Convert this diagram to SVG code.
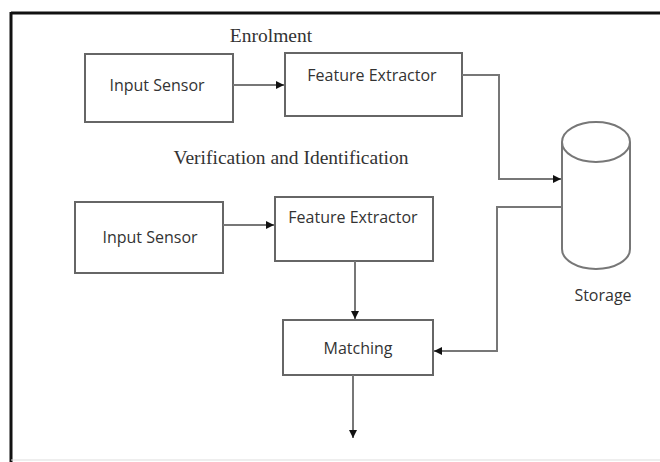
<svg xmlns="http://www.w3.org/2000/svg" width="660" height="462" viewBox="0 0 660 462">
<style>
.box{fill:#fff;stroke:#666;stroke-width:2}
.lbl{font-family:"Open Sans","Liberation Sans",sans-serif;font-size:16px;fill:#333;text-anchor:middle}
.ttl{font-family:"Liberation Serif",serif;font-size:19.5px;fill:#333;text-anchor:middle}
.con{fill:none;stroke:#777;stroke-width:2}
</style>
<defs>
<marker id="ah" viewBox="0 0 10 10" refX="10" refY="5" markerWidth="4" markerHeight="4" orient="auto" markerUnits="strokeWidth">
<path d="M0,0 L10,5 L0,10 z" fill="#111"/>
</marker>
</defs>
<rect x="0" y="0" width="660" height="462" fill="#fff"/>
<g id="frame">
<line x1="11" y1="13" x2="660" y2="13" stroke="#111" stroke-width="3"/>
<line x1="11" y1="12" x2="11" y2="462" stroke="#111" stroke-width="3"/>
<line x1="11" y1="460" x2="660" y2="460" stroke="#ddd" stroke-width="1"/>
</g>
<text class="ttl" x="271" y="42">Enrolment</text>
<text class="ttl" x="291" y="164">Verification and Identification</text>
<g id="input1">
<rect class="box" x="85" y="54" width="148" height="68"/>
<text class="lbl" x="157" y="91">Input Sensor</text>
</g>
<g id="fe1">
<rect class="box" x="285" y="53" width="177" height="63"/>
<text class="lbl" x="372" y="81">Feature Extractor</text>
</g>
<g id="storage">
<path d="M562,142 L562,249 A34,20 0 0 0 630,249 L630,142" fill="#fff" stroke="#777" stroke-width="2"/>
<ellipse cx="596" cy="142" rx="34" ry="20" fill="#fff" stroke="#777" stroke-width="2"/>
<text class="lbl" x="603" y="301">Storage</text>
</g>
<g id="input2">
<rect class="box" x="75" y="202" width="148" height="71"/>
<text class="lbl" x="150" y="243">Input Sensor</text>
</g>
<g id="fe2">
<rect class="box" x="275" y="197" width="158" height="64"/>
<text class="lbl" x="353" y="223">Feature Extractor</text>
</g>
<g id="matching">
<rect class="box" x="283" y="320" width="150" height="55"/>
<text class="lbl" x="358" y="354">Matching</text>
</g>
<g id="connectors">
<path class="con" d="M233,85 H284" marker-end="url(#ah)"/>
<path class="con" d="M462,75 H499 V179 H561" marker-end="url(#ah)"/>
<path class="con" d="M223,225 H274" marker-end="url(#ah)"/>
<path class="con" d="M562,207 H497 V351 H434" marker-end="url(#ah)"/>
<path class="con" d="M355,261 V319" marker-end="url(#ah)"/>
<path class="con" d="M353,375 V438" marker-end="url(#ah)"/>
</g>
</svg>
